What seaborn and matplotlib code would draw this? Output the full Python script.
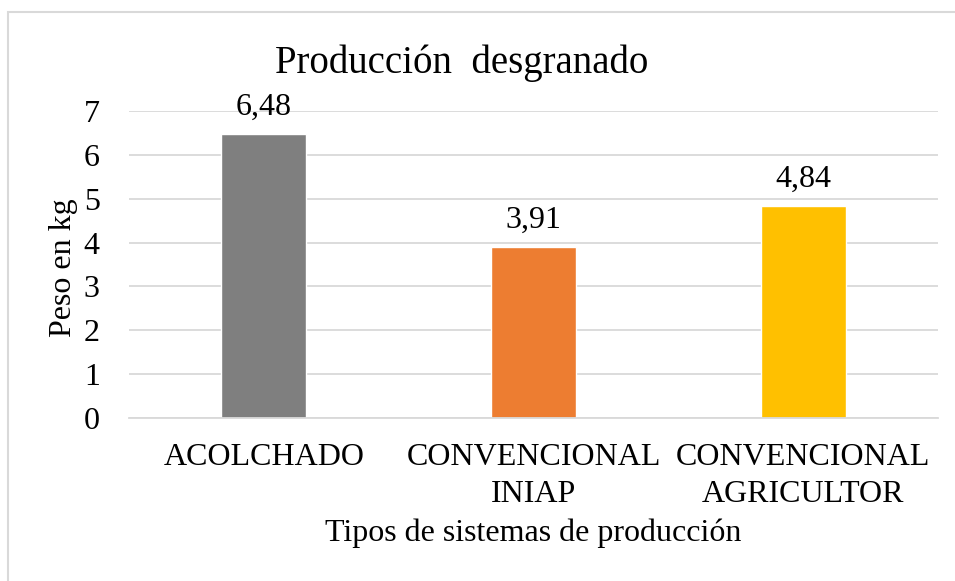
import matplotlib
matplotlib.use("Agg")
import matplotlib.pyplot as plt
import seaborn as sns
import pandas as pd
from matplotlib.patches import Rectangle

categories = ["ACOLCHADO", "CONVENCIONAL\nINIAP", "CONVENCIONAL\nAGRICULTOR"]
values = [6.48, 3.91, 4.84]
value_labels = ["6,48", "3,91", "4,84"]
colors = ["#7F7F7F", "#ED7D31", "#FFC000"]
yticks = [0, 1, 2, 3, 4, 5, 6, 7]

sns.set_theme(style="white")
plt.rcParams['font.family'] = ['Liberation Serif', 'DejaVu Serif']
plt.rcParams['text.color'] = 'black'
plt.rcParams['axes.labelcolor'] = 'black'

W, H = 955, 581
FS = 23
fig = plt.figure(figsize=(W / 100, H / 100), dpi=100)
L, R, T, B = 129, 938, 111, 418
ax = fig.add_axes([L / W, (H - B) / H, (R - L) / W, (B - T) / H])

df = pd.DataFrame({"cat": categories, "val": values})
sns.barplot(data=df, x="cat", y="val", hue="cat", palette=colors,
            width=0.315, ax=ax, legend=False, saturation=1)

ax.set_ylim(0, 7)
ax.set_xlim(-0.5, 2.5)
ax.set_yticks(yticks)
ax.set_yticklabels([str(t) for t in yticks], fontsize=FS)
ax.yaxis.grid(True, color="#D9D9D9", linewidth=1.3)
ax.set_axisbelow(True)
for s in ["top", "right", "left"]:
    ax.spines[s].set_visible(False)
ax.spines["bottom"].set_color("#D9D9D9")
ax.spines["bottom"].set_linewidth(1.3)
ax.tick_params(axis="y", length=0, pad=21, colors="black")
ax.tick_params(axis="x", length=0, pad=18, colors="black")
ax.set_xticks(range(len(categories)))
ax.set_xticklabels(categories, fontsize=FS, linespacing=1.35)

for i, (v, lab) in enumerate(zip(values, value_labels)):
    ax.annotate(lab, (i, v), xytext=(0, 13.5), textcoords="offset points",
                ha="center", va="baseline", fontsize=FS, color="black")

ax.set_ylabel("Peso en kg", fontsize=FS, color="black")
ax.yaxis.set_label_coords((78 - L) / (R - L), 0.49)
ax.set_xlabel("Tipos de sistemas de producción", fontsize=FS, color="black")
ax.xaxis.set_label_coords(0.5, (B - 518) / (B - T))

fig.text(462 / W, 1 - 73 / H, "Producción  desgranado", ha="center",
         va="baseline", fontsize=28, color="black")

fig.patches.append(Rectangle((7.5 / W, -0.1), 1.2, 1 - 12 / H + 0.1,
                             transform=fig.transFigure, fill=False,
                             edgecolor="#D9D9D9", linewidth=1.5))

fig.savefig("out.png", dpi=100)
